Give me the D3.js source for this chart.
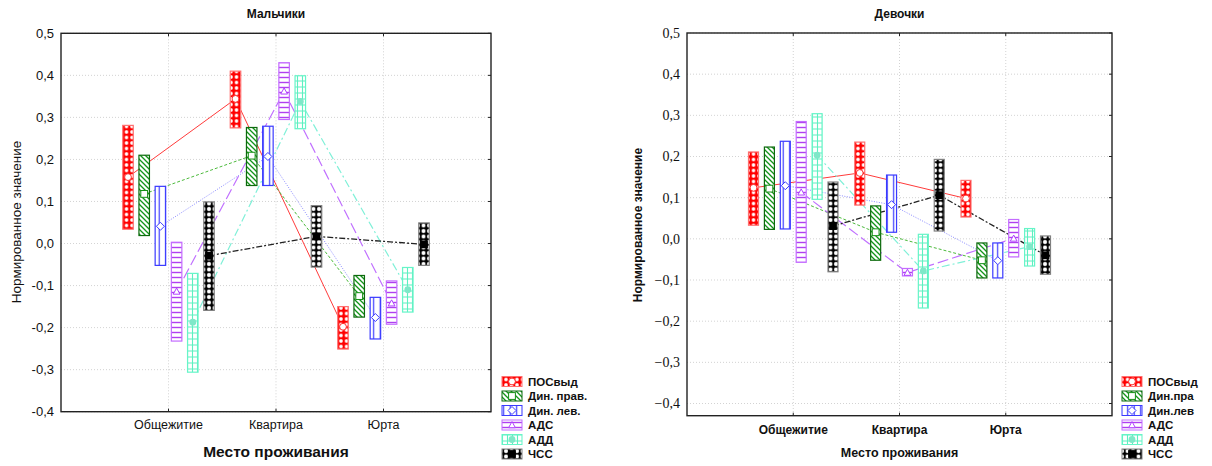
<!DOCTYPE html>
<html><head><meta charset="utf-8">
<script src="https://cdn.jsdelivr.net/npm/d3@7"></script>
<style>body{margin:0;background:#fff} svg{display:block}</style>
</head><body><svg id="c" width="1212" height="466"></svg>
<script>
// ---------- DATA ----------
const categories = ["Общежитие", "Квартира", "Юрта"];
const seriesBoys = ["ПОСвыд", "Дин. прав.", "Дин. лев.", "АДС", "АДД", "ЧСС"];
const seriesGirls = ["ПОСвыд", "Дин.пра", "Дин.лев", "АДС", "АДД", "ЧСС"];
const yTicks = [0.5, 0.4, 0.3, 0.2, 0.1, 0.0, -0.1, -0.2, -0.3, -0.4];

// Boys: per series (rows) x per category (columns)
const boysMean = [
  [0.158, 0.344, -0.198],
  [0.118, 0.209, -0.125],
  [0.041, 0.207, -0.176],
  [-0.114, 0.362, -0.142],
  [-0.187, 0.338, -0.110],
  [-0.029, 0.017, -0.002]
];
const boysLow = [
  [0.034, 0.275, -0.251],
  [0.019, 0.138, -0.175],
  [-0.052, 0.138, -0.227],
  [-0.232, 0.295, -0.192],
  [-0.306, 0.273, -0.163],
  [-0.159, -0.056, -0.052]
];
const boysHigh = [
  [0.281, 0.410, -0.150],
  [0.210, 0.276, -0.076],
  [0.136, 0.279, -0.128],
  [0.003, 0.430, -0.089],
  [-0.071, 0.399, -0.057],
  [0.099, 0.090, 0.049]
];

// Girls
const girlsMean = [
  [0.124, 0.160, 0.098],
  [0.122, 0.016, -0.052],
  [0.129, 0.083, -0.053],
  [0.113, -0.082, 0.001],
  [0.203, -0.078, -0.019],
  [0.031, 0.106, -0.040]
];
const girlsLow = [
  [0.033, 0.082, 0.053],
  [0.023, -0.052, -0.095],
  [0.024, 0.016, -0.095],
  [-0.057, -0.090, -0.044],
  [0.096, -0.168, -0.066],
  [-0.080, 0.019, -0.086]
];
const girlsHigh = [
  [0.211, 0.235, 0.142],
  [0.223, 0.080, -0.010],
  [0.237, 0.155, -0.010],
  [0.285, -0.072, 0.047],
  [0.304, 0.011, 0.025],
  [0.138, 0.193, 0.007]
];

// ---------- STYLE ----------
const SANS = "'Liberation Sans', Arial, sans-serif";
const SERIF = "'Liberation Serif', 'Times New Roman', serif";
const styles = [
  {pat: "pRed",   border: "#ff7070", line: "#ff3b3b", dash: null,        lw: 1,   marker: "circleOpen",  mc: "#ff3030"},
  {pat: "pGreen", border: "#0d6a0d", line: "#4cba3c", dash: "3,2",       lw: 1,   marker: "squareOpen",  mc: "#159015"},
  {pat: "pBlue",  border: "#3a3aff", line: "#8a8aff", dash: "1,1.5",     lw: 1,   marker: "diamondOpen", mc: "#3a3aff"},
  {pat: "pPurp",  border: "#c46cff", line: "#c070ff", dash: "11,4",      lw: 1.2, marker: "triOpen",     mc: "#b040ff"},
  {pat: "pCyan",  border: "#66f5c8", line: "#80f0d8", dash: "8,3,2,3",   lw: 1.2, marker: "circleFill",  mc: "#7fe8c8"},
  {pat: "pBlack", border: "#808080", line: "#222",    dash: "6,2,2,2",   lw: 1.3, marker: "squareFill",  mc: "#000"}
];

const svg = d3.select("#c");
const defs = svg.append("defs");

function mkPatterns() {
  // red with white circles
  let p = defs.append("pattern").attr("id", "pRed").attr("patternUnits", "userSpaceOnUse").attr("width", 5.5).attr("height", 5.5);
  p.append("rect").attr("width", 5.5).attr("height", 5.5).attr("fill", "#ff0000");
  [[0,0],[5.5,0],[0,5.5],[5.5,5.5]].forEach(c => p.append("circle").attr("cx", c[0]).attr("cy", c[1]).attr("r", 1.8).attr("fill", "#fff"));
  // black with white circles
  p = defs.append("pattern").attr("id", "pBlack").attr("patternUnits", "userSpaceOnUse").attr("width", 5.5).attr("height", 5.5);
  p.append("rect").attr("width", 5.5).attr("height", 5.5).attr("fill", "#000");
  [[0,0],[5.5,0],[0,5.5],[5.5,5.5]].forEach(c => p.append("circle").attr("cx", c[0]).attr("cy", c[1]).attr("r", 2.0).attr("fill", "#fff"));
  // green diagonal hatch
  p = defs.append("pattern").attr("id", "pGreen").attr("patternUnits", "userSpaceOnUse").attr("width", 5).attr("height", 5);
  p.append("rect").attr("width", 5).attr("height", 5).attr("fill", "#fff");
  p.append("path").attr("d", "M-1,-1 L6,6 M-1,4 L1,6 M4,-1 L6,1").attr("stroke", "#13951a").attr("stroke-width", 1.3);
  // blue vertical lines
  p = defs.append("pattern").attr("id", "pBlue").attr("patternUnits", "userSpaceOnUse").attr("width", 6.5).attr("height", 6);
  p.append("rect").attr("width", 6.5).attr("height", 6).attr("fill", "#fff");
  p.append("line").attr("x1", 3.2).attr("x2", 3.2).attr("y1", 0).attr("y2", 6).attr("stroke", "#3a3aff").attr("stroke-width", 1.2);
  // purple horizontal lines
  p = defs.append("pattern").attr("id", "pPurp").attr("patternUnits", "userSpaceOnUse").attr("width", 6).attr("height", 5);
  p.append("rect").attr("width", 6).attr("height", 5).attr("fill", "#fff");
  p.append("line").attr("x1", 0).attr("x2", 6).attr("y1", 2.5).attr("y2", 2.5).attr("stroke", "#b040f0").attr("stroke-width", 1.4);
  // cyan grid
  p = defs.append("pattern").attr("id", "pCyan").attr("patternUnits", "userSpaceOnUse").attr("width", 5).attr("height", 6);
  p.append("rect").attr("width", 5).attr("height", 6).attr("fill", "#fff");
  p.append("path").attr("d", "M0,3 L5,3 M2.5,0 L2.5,6").attr("stroke", "#5cf0c0").attr("stroke-width", 1.1);
}
mkPatterns();

function drawMarker(g, type, x, y, color) {
  const s = 3.4;
  if (type === "circleOpen") g.append("circle").attr("cx", x).attr("cy", y).attr("r", s).attr("fill", "#fff").attr("stroke", color).attr("stroke-width", 1);
  if (type === "circleFill") g.append("circle").attr("cx", x).attr("cy", y).attr("r", s).attr("fill", color);
  if (type === "squareOpen") g.append("rect").attr("x", x - s).attr("y", y - s).attr("width", 2 * s).attr("height", 2 * s).attr("fill", "#fff").attr("stroke", color).attr("stroke-width", 1);
  if (type === "squareFill") g.append("rect").attr("x", x - s - 0.5).attr("y", y - s - 0.5).attr("width", 2 * s + 1).attr("height", 2 * s + 1).attr("fill", color);
  if (type === "diamondOpen") g.append("path").attr("d", `M${x},${y - s - 0.6}L${x + s + 0.6},${y}L${x},${y + s + 0.6}L${x - s - 0.6},${y}Z`).attr("fill", "#fff").attr("stroke", color).attr("stroke-width", 1);
  if (type === "triOpen") g.append("path").attr("d", `M${x},${y - s}L${x + s},${y + s * 0.8}L${x - s},${y + s * 0.8}Z`).attr("fill", "#fff").attr("stroke", color).attr("stroke-width", 1);
}

function fmt(v, minus) {
  const s = d3.format(".1f")(Math.abs(v)).replace(".", ",");
  return (v < -1e-9 ? minus : "") + s;
}

function chart(cfg) {
  const g = svg.append("g");
  const x = d3.scalePoint().domain(categories).range([cfg.left, cfg.right]).padding(1);
  const y = d3.scaleLinear().domain(cfg.yDomain).range([cfg.bottom, cfg.top]);
  const off = d3.scalePoint().domain(d3.range(6)).range([-cfg.spacing * 2.5, cfg.spacing * 2.5]);

  // grid
  g.append("g").selectAll("line").data(yTicks).join("line")
    .attr("x1", cfg.left).attr("x2", cfg.right).attr("y1", d => y(d)).attr("y2", d => y(d))
    .attr("stroke", "#c8c8c8").attr("stroke-width", 0.8).attr("stroke-dasharray", "1,2");
  g.append("g").selectAll("line").data(categories).join("line")
    .attr("x1", d => x(d)).attr("x2", d => x(d)).attr("y1", cfg.top).attr("y2", cfg.bottom)
    .attr("stroke", "#c8c8c8").attr("stroke-width", 0.8).attr("stroke-dasharray", "1,2");

  // lines
  cfg.mean.forEach((row, i) => {
    const line = d3.line().x((d, j) => x(categories[j]) + off(i)).y(d => y(d));
    g.append("path").attr("d", line(row)).attr("fill", "none")
      .attr("stroke", styles[i].line).attr("stroke-width", styles[i].lw)
      .attr("stroke-dasharray", styles[i].dash);
  });

  // bars
  cfg.mean.forEach((row, i) => {
    row.forEach((m, j) => {
      const cx = x(categories[j]) + off(i);
      const y1 = y(cfg.high[i][j]), y2 = y(cfg.low[i][j]);
      g.append("rect").attr("x", cx - cfg.bw / 2).attr("y", y1).attr("width", cfg.bw).attr("height", y2 - y1)
        .attr("fill", `url(#${styles[i].pat})`).attr("stroke", styles[i].border).attr("stroke-width", 1.2);
    });
  });
  // markers
  cfg.mean.forEach((row, i) => {
    row.forEach((m, j) => {
      const cx = x(categories[j]) + off(i);
      drawMarker(g, styles[i].marker, cx, y(m), styles[i].mc);
    });
  });

  // frame
  g.append("rect").attr("x", cfg.left).attr("y", cfg.top).attr("width", cfg.right - cfg.left).attr("height", cfg.bottom - cfg.top)
    .attr("fill", "none").attr("stroke", "#222").attr("stroke-width", 1.4);

  // ticks (inner)
  g.append("g").selectAll("line").data(yTicks).join("line")
    .attr("x1", cfg.right - 3).attr("x2", cfg.right).attr("y1", d => y(d)).attr("y2", d => y(d)).attr("stroke", "#222");
  g.append("g").selectAll("line").data(categories).join("line")
    .attr("x1", d => x(d)).attr("x2", d => x(d)).attr("y1", cfg.top).attr("y2", cfg.top + 3).attr("stroke", "#222");
  g.append("g").selectAll("line").data(categories).join("line")
    .attr("x1", d => x(d)).attr("x2", d => x(d)).attr("y1", cfg.bottom).attr("y2", cfg.bottom - 3).attr("stroke", "#222");

  // y tick labels
  g.append("g").selectAll("text").data(yTicks).join("text")
    .attr("x", cfg.left - cfg.tickPad).attr("y", d => y(d)).attr("dy", "0.35em")
    .attr("text-anchor", "end").attr("font-family", cfg.tickFont).attr("font-size", cfg.tickSize)
    .attr("font-weight", cfg.tickWeight).attr("fill", "#111")
    .text(d => fmt(d, cfg.minus));

  // x labels
  g.append("g").selectAll("text").data(categories).join("text")
    .attr("x", d => x(d)).attr("y", cfg.xLabY).attr("text-anchor", "middle")
    .attr("font-family", SANS).attr("font-size", cfg.xLabSize)
    .attr("font-weight", cfg.xLabWeight).attr("fill", "#111").text(d => d);

  // axis titles
  g.append("text").attr("x", (cfg.left + cfg.right) / 2).attr("y", cfg.xTitleY).attr("text-anchor", "middle")
    .attr("font-family", SANS).attr("font-size", cfg.xTitleSize).attr("font-weight", "bold")
    .attr("fill", "#111").text("Место проживания");
  g.append("text").attr("transform", `translate(${cfg.yTitleX},${cfg.yTitleY}) rotate(-90)`).attr("text-anchor", "middle")
    .attr("font-family", SANS).attr("font-size", cfg.yTitleSize).attr("font-weight", cfg.yTitleWeight)
    .attr("fill", "#111").text("Нормированное значение");
  g.append("text").attr("x", (cfg.left + cfg.right) / 2).attr("y", 18).attr("text-anchor", "middle")
    .attr("font-family", SANS).attr("font-size", 12).attr("font-weight", "bold")
    .attr("fill", "#111").text(cfg.title);

  // legend
  const lg = g.append("g");
  cfg.series.forEach((s, i) => {
    const ly = cfg.legY + i * 14.5;
    lg.append("rect").attr("x", cfg.legX).attr("y", ly - 5).attr("width", 20).attr("height", 10)
      .attr("fill", `url(#${styles[i].pat})`).attr("stroke", styles[i].border).attr("stroke-width", 1);
    drawMarker(lg, styles[i].marker, cfg.legX + 10, ly, styles[i].mc);
    lg.append("text").attr("x", cfg.legX + 26).attr("y", ly).attr("dy", "0.36em")
      .attr("font-family", SANS).attr("font-size", 11.5).attr("font-weight", "bold")
      .attr("fill", "#111").text(s);
  });
}

chart({
  title: "Мальчики", series: seriesBoys, mean: boysMean, low: boysLow, high: boysHigh,
  left: 61, right: 491, top: 33.3, bottom: 411.7, yDomain: [-0.4, 0.5],
  spacing: 16.2, bw: 10.5,
  tickFont: SANS, tickSize: 13, tickWeight: "normal", tickPad: 7, minus: "-",
  xLabY: 429, xLabSize: 12.5, xLabWeight: "normal", xTitleY: 457, xTitleSize: 15.5,
  yTitleX: 21, yTitleY: 222, yTitleSize: 13.5, yTitleWeight: "normal",
  legX: 502, legY: 381.5
});

chart({
  title: "Девочки", series: seriesGirls, mean: girlsMean, low: girlsLow, high: girlsHigh,
  left: 687, right: 1112, top: 33, bottom: 415.7, yDomain: [-0.4296, 0.5],
  spacing: 15.9, bw: 10,
  tickFont: SERIF, tickSize: 14, tickWeight: "normal", tickPad: 7, minus: "\u2212",
  xLabY: 434, xLabSize: 12, xLabWeight: "bold", xTitleY: 457, xTitleSize: 12.5,
  yTitleX: 642, yTitleY: 225, yTitleSize: 12, yTitleWeight: "bold",
  legX: 1122, legY: 381.5
});
</script></body></html>
